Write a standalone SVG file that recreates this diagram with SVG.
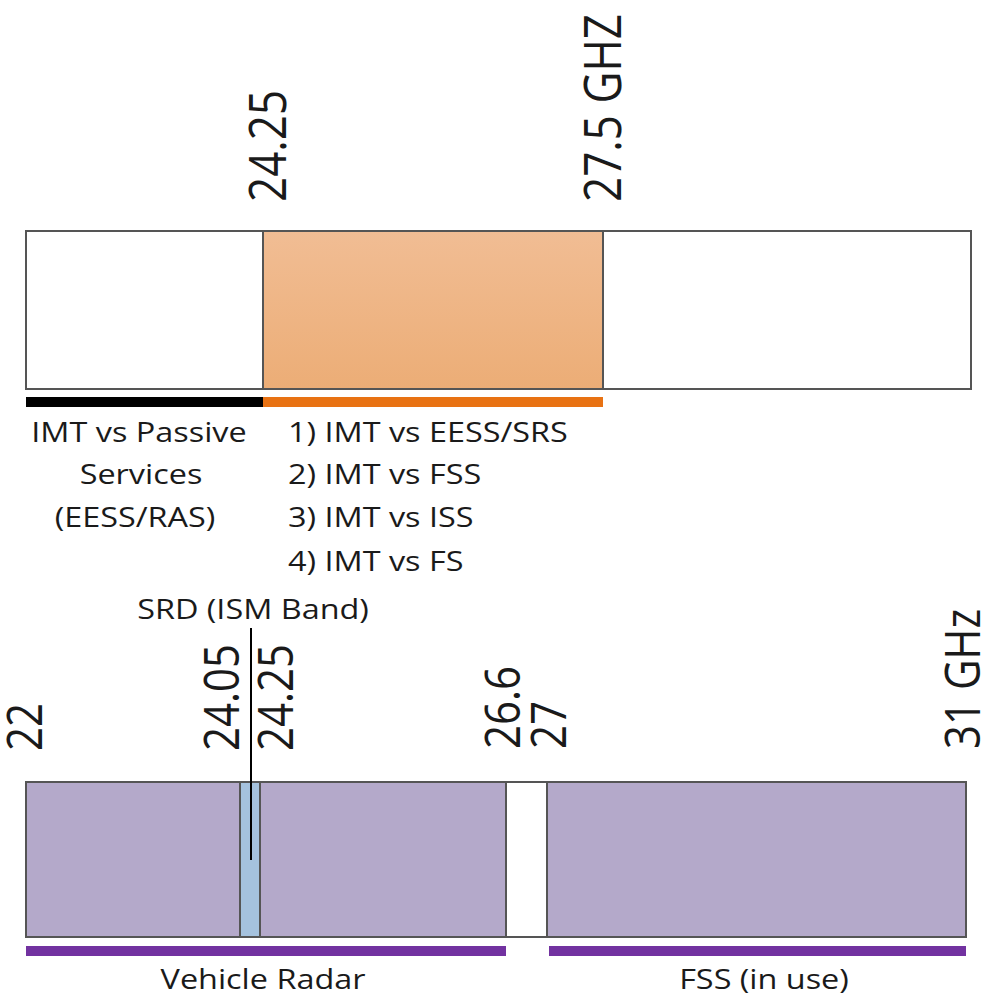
<svg xmlns="http://www.w3.org/2000/svg" width="985" height="995" viewBox="0 0 985 995">
<defs>
<linearGradient id="og" x1="0" y1="0" x2="0" y2="1">
<stop offset="0" stop-color="#f1bd94"/>
<stop offset="1" stop-color="#ecad76"/>
</linearGradient>
</defs>
<style>
.t{font-family:"Open Sans","DejaVu Sans",sans-serif;fill:#1a1a1a}
.big{font-size:44px}
.mid{font-size:42px}
.lab{font-size:27px}
.box{stroke:#555;stroke-width:2}
</style>
<rect width="985" height="995" fill="#fff"/>
<g id="top-band">
<rect class="box" x="26" y="231" width="945" height="158" fill="#fff"/>
<rect class="box" x="263" y="231" width="340" height="158" fill="url(#og)"/>
</g>
<g id="top-labels" class="t big">
<text transform="translate(286,202) rotate(-90) scale(1,1.15)">24.25</text>
<text transform="translate(621,202) rotate(-90) scale(1,1.15)">27.5 GHZ</text>
</g>
<g id="top-bars">
<rect x="26" y="397" width="237" height="10" fill="#000"/>
<rect x="263" y="397" width="340" height="10" fill="#e87213"/>
</g>
<g id="passive" class="t lab" text-anchor="middle">
<text transform="translate(139,442) scale(1.2,1)">IMT vs Passive</text>
<text transform="translate(141,484) scale(1.2,1)">Services</text>
<text transform="translate(135,527) scale(1.2,1)">(EESS/RAS)</text>
</g>
<g id="imt" class="t lab">
<text transform="translate(288,442) scale(1.2,1)">1) IMT vs EESS/SRS</text>
<text transform="translate(288,484) scale(1.2,1)">2) IMT vs FSS</text>
<text transform="translate(288,527) scale(1.2,1)">3) IMT vs ISS</text>
<text transform="translate(288,571) scale(1.2,1)">4) IMT vs FS</text>
</g>
<g id="bottom-band">
<rect class="box" x="26" y="782" width="940" height="155" fill="#b4a9ca"/>
<rect class="box" x="240" y="782" width="20" height="155" fill="#a5c2de"/>
<rect x="507" y="783" width="40" height="153" fill="#fff"/>
<line class="box" x1="506" y1="782" x2="506" y2="937"/>
<line class="box" x1="547" y1="782" x2="547" y2="937"/>
</g>
<g id="bottom-labels" class="t mid">
<text transform="translate(42,751) rotate(-90) scale(1,1.17)">22</text>
<text transform="translate(239,751) rotate(-90) scale(1,1.17)">24.05</text>
<text transform="translate(293,751) rotate(-90) scale(1,1.17)">24.25</text>
<text transform="translate(520,749) rotate(-90) scale(1,1.17)">26.6</text>
<text transform="translate(566,749) rotate(-90) scale(1,1.17)">27</text>
<text transform="translate(980,749) rotate(-90) scale(1,1.17)">31 GHz</text>
</g>
<g id="srd">
<text class="t lab" text-anchor="middle" transform="translate(253,619) scale(1.2,1)">SRD (ISM Band)</text>
</g>
<g id="connectors">
<line x1="251" y1="628" x2="251" y2="860" stroke="#000" stroke-width="2"/>
</g>
<g id="bottom-bars">
<rect x="26" y="946" width="480" height="10" fill="#7232a0"/>
<rect x="549" y="946" width="417" height="10" fill="#7232a0"/>
</g>
<g id="bottom-text" class="t lab" text-anchor="middle">
<text transform="translate(263,989) scale(1.2,1)">Vehicle Radar</text>
<text transform="translate(764,989) scale(1.2,1)">FSS (in use)</text>
</g>
</svg>
